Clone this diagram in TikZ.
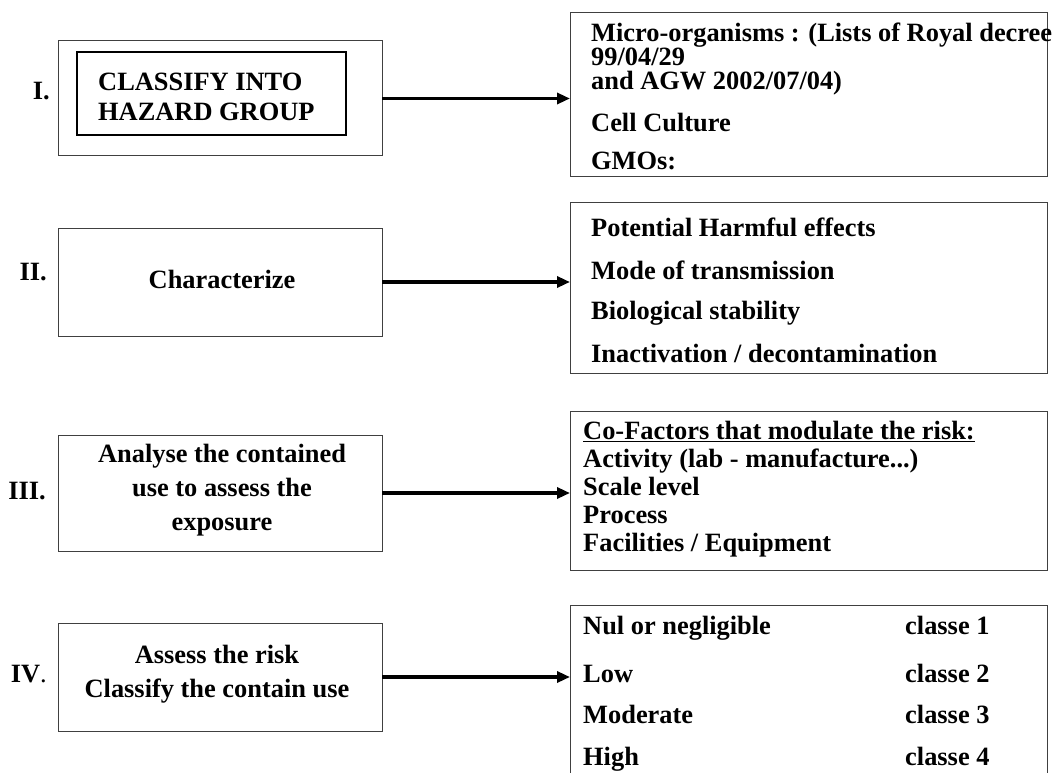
\documentclass[tikz,border=0pt]{standalone}
\usepackage{fontspec}
\setmainfont{Liberation Serif}
\usetikzlibrary{arrows.meta}
\begin{document}
\begin{tikzpicture}[x=1pt,y=-1pt,
  frame/.style={draw=black!75, line width=1pt, minimum width=#1, inner sep=0, outer sep=0},
  innerframe/.style={draw=black, line width=1.8pt, inner sep=0, outer sep=0},
  flow/.style={line width=3.2pt, -{Triangle[length=13pt,width=11pt]}},
  txt/.style={anchor=base west, inner sep=0, font=\bfseries\fontsize{26.4}{30}\selectfont},
  ctxt/.style={anchor=base, inner sep=0, font=\bfseries\fontsize{26.4}{30}\selectfont},
  num/.style={anchor=base east, inner sep=0, font=\bfseries\fontsize{26.4}{30}\selectfont}]
\useasboundingbox[fill=white] (0,0) rectangle (1055,773);

% ---- left column: the four steps ----
\node[frame=324pt, minimum height=115pt] (l1) at (220,98.5) {};
\node[innerframe, minimum width=269pt, minimum height=83pt] (l1in) at (211.5,93.5) {};
\node[txt] (t1a) at (98,91) {CLASSIFY INTO};
\node[txt] (t1b) at (98,121) {HAZARD GROUP};

\node[frame=324pt, minimum height=108pt] (l2) at (220,282) {};
\node[ctxt] (t2) at (222,288) {Characterize};

\node[frame=324pt, minimum height=116pt] (l3) at (220,493) {};
\node[ctxt] (t3a) at (222,462) {Analyse the contained};
\node[ctxt] (t3b) at (222,496) {use to assess the};
\node[ctxt] (t3c) at (222,530) {exposure};

\node[frame=324pt, minimum height=108pt] (l4) at (220,677) {};
\node[ctxt] (t4a) at (217,663) {Assess the risk};
\node[ctxt] (t4b) at (217,697) {Classify the contain use};

% ---- step numbers ----
\node[num] (n1) at (50,100) {I.};
\node[num] (n2) at (47,280) {II.};
\node[num] (n3) at (46,499) {III.};
\node[num] (n4) at (47,682) {\textbf{IV}{\mdseries .}};

% ---- right column: details of each step ----
\node[frame=477pt, minimum height=163pt] (r1) at (808.5,94.5) {};
\node[txt] (d1a) at (591,42) {Micro-organisms : (Lists of Royal decree};
\node[txt] (d1b) at (591,66) {99/04/29};
\node[txt] (d1c) at (591,90) {and AGW 2002/07/04)};
\node[txt] (d1d) at (591,132) {Cell Culture};
\node[txt] (d1e) at (591,170) {GMOs:};

\node[frame=477pt, minimum height=171pt] (r2) at (808.5,287.5) {};
\node[txt] (d2a) at (591,236) {Potential Harmful effects};
\node[txt] (d2b) at (591,279) {Mode of transmission};
\node[txt] (d2c) at (591,319) {Biological stability};
\node[txt] (d2d) at (591,362) {Inactivation / decontamination};

\node[frame=477pt, minimum height=159pt] (r3) at (808.5,490.5) {};
\node[txt] (d3a) at (583,439) {\underline{Co-Factors that modulate the risk:}};
\node[txt] (d3b) at (583,467) {Activity (lab - manufacture...)};
\node[txt] (d3c) at (583,495) {Scale level};
\node[txt] (d3d) at (583,523) {Process};
\node[txt] (d3e) at (583,551) {Facilities / Equipment};

% last box runs off the bottom edge: no lower side
\node[minimum width=477pt, minimum height=170pt, inner sep=0, outer sep=0] (r4) at (808.5,690) {};
\draw[black!75, line width=1pt] (r4.south west) -- (r4.north west) -- (r4.north east) -- (r4.south east);
\node[txt] (d4a) at (583,634) {Nul or negligible};
\node[txt] (d4b) at (583,682) {Low};
\node[txt] (d4c) at (583,723) {Moderate};
\node[txt] (d4d) at (583,765) {High};
\node[txt] (c4a) at (905,634) {classe 1};
\node[txt] (c4b) at (905,682) {classe 2};
\node[txt] (c4c) at (905,723) {classe 3};
\node[txt] (c4d) at (905,765) {classe 4};

% ---- connectors ----
\draw[flow] (l1.east) -- (l1.east -| r1.west);
\draw[flow] (l2.east) -- (l2.east -| r2.west);
\draw[flow] (l3.east) -- (l3.east -| r3.west);
\draw[flow] (l4.east) -- (l4.east -| r4.west);
\end{tikzpicture}
\end{document}
